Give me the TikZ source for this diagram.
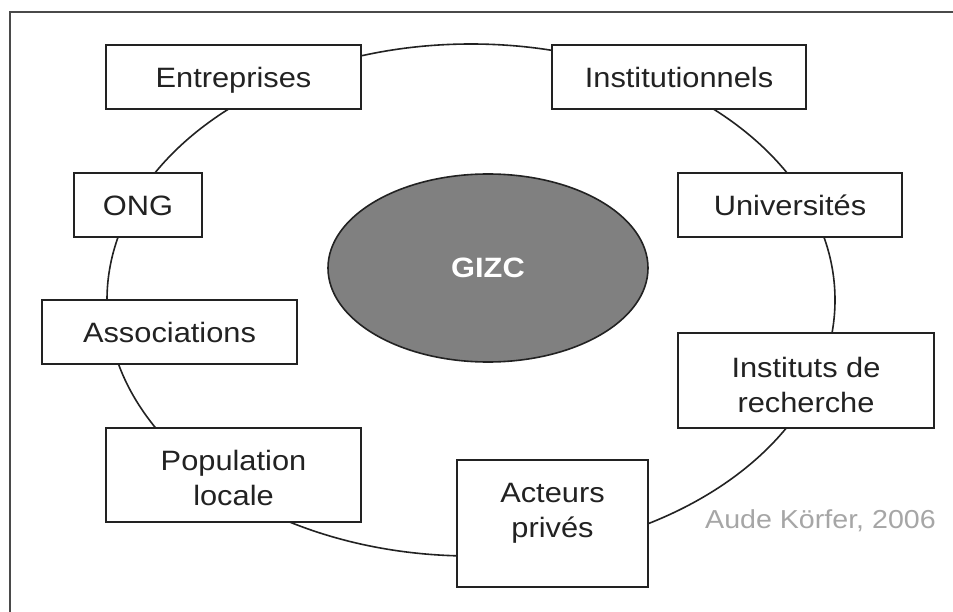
\documentclass[tikz,border=0pt]{standalone}
\usepackage{fontspec}
\setmainfont[FakeStretch=1.1]{Liberation Sans}
\usetikzlibrary{shapes.geometric}
\definecolor{ink}{HTML}{222222}
\definecolor{frame}{HTML}{4A4A4A}
\definecolor{gizcfill}{HTML}{808080}
\definecolor{credit}{HTML}{A6A6A6}
\begin{document}
\begin{tikzpicture}[x=1pt,y=-1pt,
  box/.style={draw=ink, line width=1.6pt, fill=white, inner sep=0pt, align=center,
    font=\fontsize{28}{35}\selectfont, text=ink},
  one/.style={text height=20.4pt, text depth=0pt},
  lbl/.style={inner sep=0pt, align=center, font=\fontsize{28}{35}\selectfont, text=ink},
  ring/.style={ellipse, draw=ink, line width=1.6pt, inner sep=0pt},
  core/.style={ellipse, draw=ink, line width=1.6pt, fill=gizcfill, inner sep=0pt,
    text=white, font=\bfseries\fontsize{28}{34}\selectfont},
  creditstyle/.style={inner sep=0pt, anchor=base west, text=credit, font=\fontsize{26}{30}\selectfont}
]
\useasboundingbox (0,0) rectangle (953,612);
\fill[white] (0,0) rectangle (953,612);
\draw[line width=2.6pt, draw=frame] (10,612) -- (10,12) -- (953,12);

\node[ring, minimum width=728pt, minimum height=512pt] (ringnode) at (471,300) {};
\node[core, minimum width=320pt, minimum height=188pt] (gizc) at (488,268) {GIZC};

\node[box, one, minimum width=255pt, minimum height=64pt] (ent) at (233.5,77) {Entreprises};
\node[box, one, minimum width=254pt, minimum height=64pt] (inst) at (679,77) {Institutionnels};
\node[box, one, minimum width=128pt, minimum height=64pt] (ong) at (138,205) {ONG};
\node[box, one, minimum width=224pt, minimum height=64pt] (univ) at (790,205) {Universités};
\node[box, one, minimum width=255pt, minimum height=64pt] (assoc) at (169.5,332) {Associations};
\node[box, text height=63.4pt, text depth=0pt, minimum width=256pt, minimum height=95pt] (irech) at (806,380.5) {Instituts de\\recherche};
\node[box, text height=61.4pt, text depth=0pt, minimum width=255pt, minimum height=94pt] (pop) at (233.5,475) {Population\\locale};
\node[box, minimum width=191pt, minimum height=127pt] (act) at (552.5,523.5) {};
\node[lbl] (acttxt) at (552.5,513) {Acteurs\\privés};

\node[creditstyle] (credit) at (705,528) {Aude Körfer, 2006};
\end{tikzpicture}
\end{document}
